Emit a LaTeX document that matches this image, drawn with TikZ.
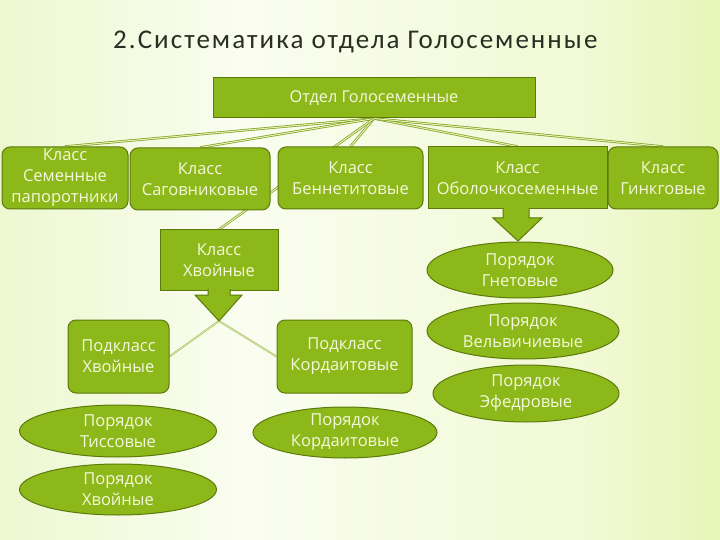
\documentclass[tikz,border=0pt]{standalone}
\usepackage{fontspec}
\setmainfont{Open Sans}
\newfontfamily\titlefont[LetterSpace=7.6]{Carlito}
\usetikzlibrary{shapes.geometric}
\definecolor{boxfill}{HTML}{8DB81A}
\definecolor{boxline}{HTML}{5C7A0C}
\definecolor{boxtext}{HTML}{F4F8DC}
\definecolor{connout}{HTML}{7A9A18}
\definecolor{connin}{HTML}{E2F0B0}
\definecolor{titlecol}{HTML}{2A2E22}
\definecolor{bga}{HTML}{C8EA7E}
\definecolor{bgb}{HTML}{E6F5C0}
\definecolor{bgc}{HTML}{FAFDF0}
\definecolor{bgd}{HTML}{F1F9D4}
\definecolor{bge}{HTML}{DCF29C}
\definecolor{bgf}{HTML}{CCEE76}
\pgfdeclarehorizontalshading{bgshade}{100bp}{color(0bp)=(bga); color(16bp)=(bgb); color(42bp)=(bgc); color(66bp)=(bgd); color(84bp)=(bge); color(100bp)=(bgf)}
\pgfdeclarelayer{back}
\pgfsetlayers{back,main}
\begin{document}
\begin{tikzpicture}[x=1pt,y=-1pt,
  boxbase/.style={draw=boxline, fill=boxfill, line width=1pt, text=boxtext, align=center, inner sep=0pt, font=\fontsize{16.5}{21}\selectfont},
  rbox/.style={boxbase, rounded corners=8pt},
  sbox/.style={boxbase},
  oval/.style={boxbase, ellipse, inner sep=-6pt},
  conn/.style={draw=connout, double=connin, double distance=1.1pt, line width=0.65pt},
  thinconn/.style={draw=connout!80, double=connin, double distance=0.7pt, line width=0.45pt},
  blockarrow/.style={draw=boxline, fill=boxfill, line width=1pt, line join=miter}]
\useasboundingbox (0,0) rectangle (720,540);
\begin{pgfonlayer}{back}
  \shade[shading=bgshade] (0,0) rectangle (720,540);
\end{pgfonlayer}

\node[text=titlecol, anchor=base west, inner sep=0pt, font=\titlefont\fontsize{27}{32}\selectfont] (title) at (113,49) {2.Систематика отдела Голосеменные};

\node[sbox, minimum width=322pt, minimum height=40pt, font=\fontsize{16.3}{20}\selectfont] (div) at (374,98) {Отдел Голосеменные};

\node[rbox, minimum width=126pt, minimum height=62pt] (c1) at (65,178) {Класс\\Семенные\\папоротники};
\node[rbox, minimum width=140pt, minimum height=62pt] (c2) at (200,179) {Класс\\Саговниковые};
\node[rbox, minimum width=145pt, minimum height=62pt] (c3) at (350.5,178) {Класс\\Беннетитовые};
\node[sbox, minimum width=179pt, minimum height=62pt] (c4) at (517.5,178) {Класс\\Оболочкосеменные};
\node[rbox, minimum width=110pt, minimum height=62pt] (c5) at (663,178) {Класс\\Гинкговые};

\node[sbox, minimum width=118pt, minimum height=60pt] (kh) at (219,260) {Класс\\Хвойные};
\draw[blockarrow] (208,289) -- (208,295) -- (195,295) -- (219,321) -- (242,295) -- (230,295) -- (230,289);
\coordinate (khtip) at (219,321);

\draw[blockarrow] (503,208) -- (503,218) -- (493,218) -- (518,241) -- (542,218) -- (529,218) -- (529,208);

\node[rbox, minimum width=101pt, minimum height=73pt] (sk) at (118.5,356.5) {Подкласс\\Хвойные};
\node[rbox, minimum width=135pt, minimum height=73pt] (sc) at (344.5,356.5) {Подкласс\\Кордаитовые};

\node[oval, minimum width=197pt, minimum height=52pt] (o1) at (118,431) {Порядок\\Тиссовые};
\node[oval, minimum width=197pt, minimum height=51pt] (o2) at (118,489.5) {Порядок\\Хвойные};
\node[oval, minimum width=184pt, minimum height=51pt] (o3) at (345,432.5) {Порядок\\Кордаитовые};

\node[oval, minimum width=186pt, minimum height=56pt] (g1) at (520,270) {Порядок\\Гнетовые};
\node[oval, minimum width=192pt, minimum height=56pt] (g2) at (523,331) {Порядок\\Вельвичиевые};
\node[oval, minimum width=186pt, minimum height=57pt] (g3) at (526,393.5) {Порядок\\Эфедровые};

\begin{pgfonlayer}{back}
  \draw[conn] (div.south) -- (c1.north);
  \draw[conn] (div.south) -- (c2.north);
  \draw[conn] (div.south) -- (c3.north);
  \draw[conn] (div.south) -- (kh.north);
  \draw[conn] (div.south) -- (c4.north);
  \draw[conn] (div.south) -- (c5.north);
  \draw[thinconn] (khtip) -- (sk.east);
  \draw[thinconn] (khtip) -- (sc.west);
\end{pgfonlayer}
\end{tikzpicture}
\end{document}
